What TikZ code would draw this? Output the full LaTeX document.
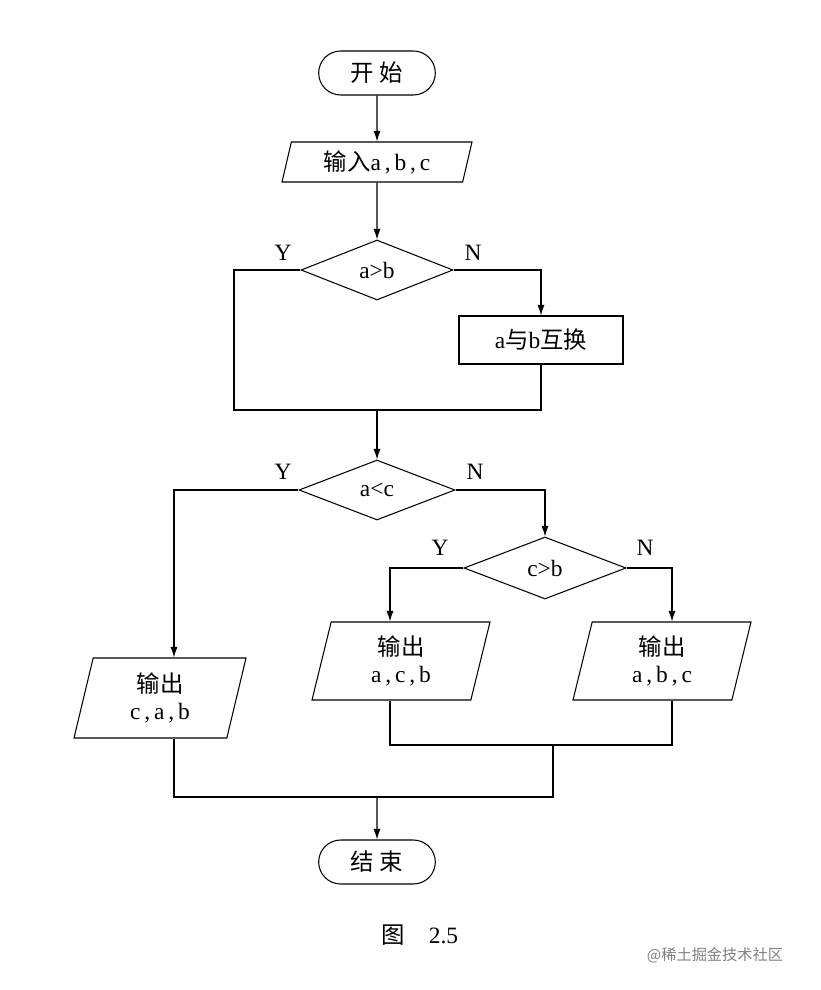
\documentclass[tikz,border=0pt]{standalone}
\usepackage{fontspec}
\setmainfont{Liberation Serif}
\newfontfamily\cjk{Noto Sans CJK SC}
\usetikzlibrary{shapes.geometric,shapes.misc,arrows.meta}
\begin{document}
\begin{tikzpicture}[x=0.03cm,y=-0.03cm,
  every node/.style={font=\fontsize{20}{23}\selectfont},
  base/.style={draw,line width=0.9pt,inner sep=1pt},
  term/.style={base,rounded rectangle,minimum width=119*0.03cm,minimum height=44*0.03cm},
  io/.style={base,trapezium,trapezium left angle=70,trapezium right angle=-70,trapezium stretches body},
  dec/.style={base,diamond,aspect=2.5,minimum width=152*0.03cm,minimum height=60*0.03cm},
  proc/.style={base,rectangle,minimum width=164*0.03cm,minimum height=48*0.03cm},
  ln/.style={line width=0.9pt},
  ar/.style={ln,-{Latex[length=9pt,width=6pt]}},
  lab/.style={font=\fontsize{20}{23}\selectfont}]
\useasboundingbox (0,0) rectangle (820,990);
\node[term] (start) at (377,73) {\cjk 开\ 始};
\node[io,minimum width=190*0.03cm,minimum height=40*0.03cm] (in) at (377,162) {{\cjk 输入}a\,,\,b\,,\,c};
\node[dec] (d1) at (377,270) {a>b};
\node[proc] (sw) at (541,340) {a{\cjk 与}b{\cjk 互换}};
\node[dec,minimum width=156*0.03cm] (d2) at (377,490) {a<c};
\node[dec,minimum width=162*0.03cm,minimum height=62*0.03cm] (d3) at (545,568) {c>b};
\node[io,minimum width=172*0.03cm,minimum height=80*0.03cm,align=center] (o1) at (160,698) {\cjk 输出\\c\,,\,a\,,\,b};
\node[io,minimum width=178*0.03cm,minimum height=78*0.03cm,align=center] (o2) at (401,661) {\cjk 输出\\a\,,\,c\,,\,b};
\node[io,minimum width=178*0.03cm,minimum height=78*0.03cm,align=center] (o3) at (662,661) {\cjk 输出\\a\,,\,b\,,\,c};
\node[term] (end) at (377,862) {\cjk 结\ 束};
\coordinate (m1) at (377,410);
\coordinate (m2) at (553,745);
\coordinate (m3) at (377,797);
\draw[ar] (start) -- (in);
\draw[ar] (in) -- (d1);
\draw[ar] (d1.east) -| (sw.north);
\draw[ln] (d1.west) -| (234,410) -- (541,410) -- (sw.south);
\draw[ar] (m1) -- (d2);
\draw[ar] (d2.west) -| (o1.north -| 174,0);
\draw[ar] (d2.east) -| (d3.north);
\draw[ar] (d3.west) -| (o2.north -| 390,0);
\draw[ar] (d3.east) -| (o3.north -| 672,0);
\draw[ln] (o2.south -| 390,0) -- (390,745) -- (672,745) -- (o3.south -| 672,0);
\draw[ln] (m2) -- (553,797) -- (174,797) -- (o1.south -| 174,0);
\draw[ar] (m3) -- (end);
\node[lab] (y1) at (283,253) {Y};
\node[lab] (n1) at (473,253) {N};
\node[lab] (y2) at (283,472) {Y};
\node[lab] (n2) at (475,472) {N};
\node[lab] (y3) at (440,548) {Y};
\node[lab] (n3) at (645,548) {N};
\node (cap) at (420,935) {{\cjk 图}\quad 2.5};
\node[text=gray,font=\fontsize{13}{15}\selectfont] (wm) at (715,955) {{\cjk @稀土掘金技术社区}};
\end{tikzpicture}
\end{document}
